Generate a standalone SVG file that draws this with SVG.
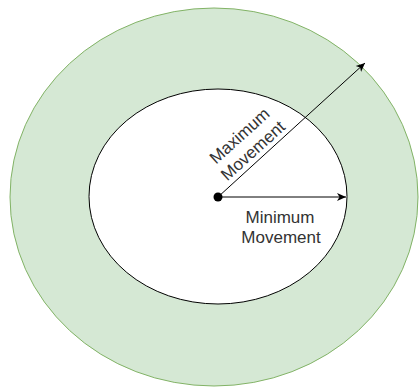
<svg xmlns="http://www.w3.org/2000/svg" width="419" height="387" viewBox="0 0 419 387">
<style>
.lbl{font-family:"Liberation Sans",Arial,sans-serif;font-size:17px;fill:#333;text-anchor:middle}
.conn{stroke:#000;stroke-width:1;fill:none}
</style>
<defs>
<marker id="ah" viewBox="0 0 10 10" refX="9" refY="5" markerWidth="10" markerHeight="10" markerUnits="userSpaceOnUse" orient="auto">
<path d="M0,1 L9,5 L0,9 L2.5,5 Z" fill="#000"/>
</marker>
</defs>
<g id="outer">
<ellipse cx="214" cy="197" rx="204" ry="189" fill="#d5e8d4" stroke="#82b366" stroke-width="1"/>
</g>
<g id="inner">
<ellipse cx="218" cy="196.5" rx="129" ry="107.5" fill="#fff" stroke="#000" stroke-width="1"/>
</g>
<g id="connectors">
<line class="conn" x1="218" y1="197" x2="346" y2="197" marker-end="url(#ah)"/>
<line class="conn" x1="218" y1="197" x2="365" y2="63" marker-end="url(#ah)"/>
</g>
<g id="center">
<circle cx="218" cy="197" r="4.5" fill="#000"/>
</g>
<g id="label-min">
<text class="lbl" x="280" y="223">Minimum</text>
<text class="lbl" x="281" y="243">Movement</text>
</g>
<g id="label-max">
<text class="lbl" transform="translate(246,143) rotate(-42)"><tspan x="0" y="-4">Maximum</tspan><tspan x="0" y="16">Movement</tspan></text>
</g>
</svg>
